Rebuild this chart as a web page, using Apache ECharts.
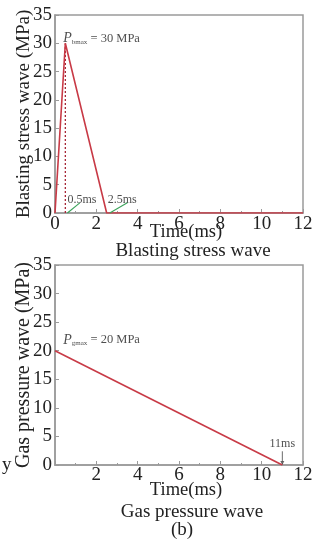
<!DOCTYPE html>
<html>
<head>
<meta charset="utf-8">
<script src="https://cdn.jsdelivr.net/npm/echarts@6/dist/echarts.min.js"></script>
<style>
  html, body { margin: 0; padding: 0; background: #fff; }
  #main { width: 321px; height: 544px; }
</style>
</head>
<body>
<div id="main"></div>
<script>
// blasting stress wave (time ms, MPa)
const blastTime = [0, 0.5, 2.5, 12]
const blastValue = [0, 30, 0, 0]
// gas pressure wave
const gasTime = [0, 11]
const gasValue = [20, 0]
// markers
const blastPeakTime = 0.5
const blastPeakValue = 30
const blastEndTime = 2.5
const gasEndTime = 11
const yTicks = [0, 5, 10, 15, 20, 25, 30, 35]
const xTicks = [0, 2, 4, 6, 8, 10, 12]

const serif = '"Liberation Serif", "DejaVu Serif", serif'
const red = '#c83a46'
const green = '#3aa35a'
const grey = '#9a9a9a'
const ink = '#222'

const chart = echarts.init(document.getElementById('main'))

const pair = (xs, ys) => xs.map((x, i) => [x, ys[i]])

const makeX = (idx, hideZero, gap, margin) => ({
  gridIndex: idx,
  type: 'value',
  min: xTicks[0],
  max: xTicks[xTicks.length - 1],
  interval: 2,
  name: 'Time(ms)',
  nameLocation: 'middle',
  nameGap: gap,
  nameMoveOverlap: false,
  nameTextStyle: { fontFamily: serif, fontSize: 18.5, color: ink, padding: [0, 0, 0, 14] },
  axisLine: { show: true, lineStyle: { color: grey, width: 1.5 } },
  axisTick: { show: true, inside: true, length: 4, lineStyle: { color: grey } },
  minorTick: { show: true, splitNumber: 2, length: 2, lineStyle: { color: grey } },
  splitLine: { show: false },
  axisLabel: {
    fontFamily: serif, fontSize: 19, color: ink, margin: margin,
    formatter: (v) => (hideZero && v === 0 ? '' : v)
  }
})

const makeY = (idx, name, size) => ({
  gridIndex: idx,
  type: 'value',
  min: yTicks[0],
  max: yTicks[yTicks.length - 1],
  interval: 5,
  name: name,
  nameLocation: 'middle',
  nameGap: 21,
  nameMoveOverlap: false,
  nameTextStyle: { fontFamily: serif, fontSize: size, color: ink },
  axisLine: { show: true, lineStyle: { color: grey, width: 1.5 } },
  axisTick: { show: true, inside: true, length: 4, lineStyle: { color: grey } },
  splitLine: { show: false },
  axisLabel: { fontFamily: serif, fontSize: 19, color: ink, margin: 3 }
})

const pLabel = (sub, val) => ({
  show: true,
  position: 'right',
  distance: 0,
  formatter: '{p|P}{s|' + sub + '} = ' + val + ' MPa',
  fontFamily: serif,
  fontSize: 12.5,
  color: ink,
  rich: {
    p: { fontFamily: serif, fontStyle: 'italic', fontSize: 14, color: ink },
    s: { fontFamily: serif, fontSize: 7, color: ink, padding: [7, 0, 0, 0] }
  }
})

const caption = (text, x, y) => ({
  type: 'text', x: x, y: y,
  style: { text: text, font: '19px ' + serif, fill: ink, textAlign: 'center', textVerticalAlign: 'middle' }
})

chart.setOption({
  animation: false,
  grid: [
    { left: 55, top: 15, width: 248, height: 198, show: true, borderColor: grey, borderWidth: 1.5, backgroundColor: 'transparent', outerBoundsMode: 'none' },
    { left: 55, top: 265, width: 248, height: 200, show: true, borderColor: grey, borderWidth: 1.5, backgroundColor: 'transparent', outerBoundsMode: 'none' }
  ],
  xAxis: [makeX(0, false, 10, 2), makeX(1, true, 16, 1)],
  yAxis: [makeY(0, 'Blasting stress wave (MPa)', 19), makeY(1, 'Gas pressure wave (MPa)', 20)],
  graphic: [
    caption('Blasting stress wave', 193, 251),
    caption('Gas pressure wave', 192, 512),
    caption('(b)', 182, 530),
    { type: 'text', x: 2, y: 456, style: { text: 'y', font: '19px ' + serif, fill: ink } }
  ],
  series: [
    {
      type: 'line', xAxisIndex: 0, yAxisIndex: 0, symbol: 'none',
      data: pair([blastPeakTime, blastPeakTime], [0, blastPeakValue]),
      lineStyle: { color: '#a82838', width: 1.3, type: [2, 2] }, z: 2
    },
    {
      type: 'line', xAxisIndex: 0, yAxisIndex: 0, symbol: 'none',
      data: pair(blastTime, blastValue),
      lineStyle: { color: red, width: 1.6 }, z: 3
    },
    {
      type: 'line', xAxisIndex: 0, yAxisIndex: 0, symbol: 'none',
      data: pair([blastPeakTime + 0.1, blastPeakTime + 0.7], [0, 1.8]),
      lineStyle: { color: green, width: 1.1 }
    },
    {
      type: 'line', xAxisIndex: 0, yAxisIndex: 0, symbol: 'none',
      data: pair([blastEndTime + 0.15, blastEndTime + 1.0], [0, 1.8]),
      lineStyle: { color: green, width: 1.1 }
    },
    {
      type: 'scatter', xAxisIndex: 0, yAxisIndex: 0, symbolSize: 0,
      data: [[blastPeakTime + 0.1, 2.4], [blastEndTime + 0.05, 2.4]],
      label: {
        show: true, position: 'right', distance: 0, fontFamily: serif, fontSize: 12, color: ink,
        formatter: (p) => (p.dataIndex === 0 ? '0.5ms' : '2.5ms')
      }
    },
    {
      type: 'scatter', xAxisIndex: 0, yAxisIndex: 0, symbolSize: 0,
      data: [[blastPeakTime - 0.1, 30.8]],
      label: pLabel('bmax', blastPeakValue)
    },
    {
      type: 'line', xAxisIndex: 1, yAxisIndex: 1, symbol: 'none',
      data: pair(gasTime, gasValue),
      lineStyle: { color: red, width: 1.6 }, z: 3
    },
    {
      type: 'scatter', xAxisIndex: 1, yAxisIndex: 1, symbolSize: 0,
      data: [[0.4, 21.9]],
      label: pLabel('gmax', gasValue[0])
    },
    {
      type: 'line', xAxisIndex: 1, yAxisIndex: 1, symbol: 'none',
      data: pair([gasEndTime, gasEndTime], [2.4, 0.6]),
      lineStyle: { color: '#444', width: 0.8 }
    },
    {
      type: 'scatter', xAxisIndex: 1, yAxisIndex: 1, symbol: 'triangle', symbolRotate: 180,
      symbolSize: [4, 4], symbolOffset: [0, -2],
      itemStyle: { color: '#444' },
      data: [[gasEndTime, 0]]
    },
    {
      type: 'scatter', xAxisIndex: 1, yAxisIndex: 1, symbolSize: 0,
      data: [[gasEndTime, 2.6]],
      label: { show: true, position: 'top', distance: 0, fontFamily: serif, fontSize: 12, color: ink, formatter: '11ms' }
    }
  ]
})
</script>
</body>
</html>
